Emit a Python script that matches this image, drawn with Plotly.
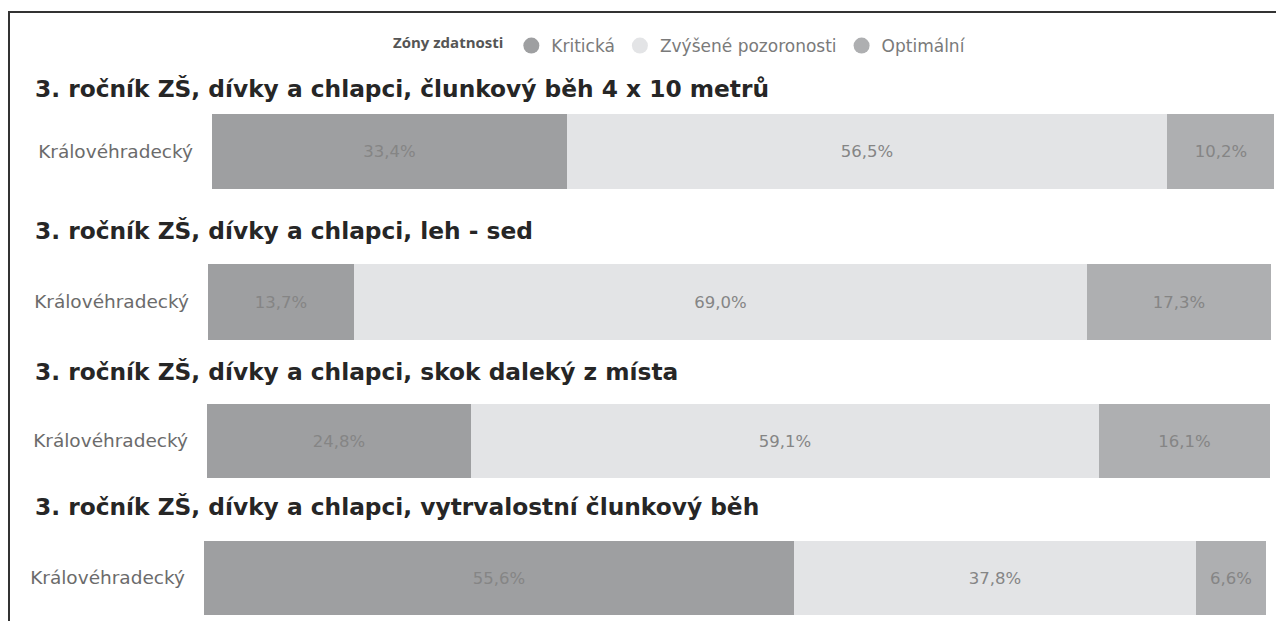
import plotly.graph_objects as go
from plotly.subplots import make_subplots

titles = [
    "3. ročník ZŠ, dívky a chlapci, člunkový běh 4 x 10 metrů",
    "3. ročník ZŠ, dívky a chlapci, leh - sed",
    "3. ročník ZŠ, dívky a chlapci, skok daleký z místa",
    "3. ročník ZŠ, dívky a chlapci, vytrvalostní člunkový běh",
]
region = ["Královéhradecký"]
zones = ["Kritická", "Zvýšené pozoronosti", "Optimální"]
kriticka = [33.4, 13.7, 24.8, 55.6]
zvysene = [56.5, 69.0, 59.1, 37.8]
optimalni = [10.2, 17.3, 16.1, 6.6]
colors = ["#9e9fa1", "#e3e4e6", "#aeafb1"]

# page body has an 8px margin, so the figure is 8px smaller than the window
W, H = 1276, 613
OFF = 8
# pixel geometry (window coords) of each panel bar (left, right, top, bottom)
panels_px = [(212, 1274, 114, 189), (208, 1271, 264, 340), (207, 1270, 404, 478), (204, 1266, 541, 615)]
title_y_px = [88, 230, 371, 506]

fig = make_subplots(rows=4, cols=1)
series = [kriticka, zvysene, optimalni]
FONT = "DejaVu Sans"

def fmt(v):
    return f"{v:.1f}%".replace(".", ",")

for i in range(4):
    for z, name in enumerate(zones):
        v = series[z][i]
        fig.add_trace(go.Bar(
            x=[v], y=region, orientation="h", name=name,
            marker=dict(color=colors[z], line=dict(width=0)),
            text=[fmt(v)], textposition="inside", insidetextanchor="middle",
            textfont=dict(color="#858585", size=16.5, family=FONT),
            showlegend=False, hoverinfo="skip",
        ), row=i + 1, col=1)

# legend entries with circle markers
for z, name in enumerate(zones):
    fig.add_trace(go.Scatter(x=[None], y=[None], mode="markers", name=name,
                             marker=dict(symbol="circle", size=17, color=colors[z]),
                             showlegend=True), row=1, col=1)

layout_axes = {}
for i in range(4):
    l, r, t, b = [v - OFF for v in panels_px[i]]
    sfx = "" if i == 0 else str(i + 1)
    layout_axes["xaxis" + sfx] = dict(domain=[l / W, min(r / W, 1)], range=[0, 100], visible=False, fixedrange=True)
    layout_axes["yaxis" + sfx] = dict(domain=[1 - b / H, 1 - t / H], range=[-0.5, 0.5],
                                      showgrid=False, zeroline=False, showline=False,
                                      ticks="", ticklabelstandoff=18,
                                      tickfont=dict(size=18.5, color="#6b6b6b", family=FONT))
fig.update_layout(**layout_axes)

for i, t in enumerate(titles):
    fig.add_annotation(text=f"<b>{t}</b>", xref="paper", yref="paper",
                       x=25 / W, y=1 - (title_y_px[i] - OFF) / H, xanchor="left", yanchor="middle",
                       showarrow=False, font=dict(size=23.3, color="#262626", family=FONT))

# frame lines
fig.add_shape(type="line", xref="paper", yref="paper", x0=0, x1=1, y0=1 - 4 / H, y1=1 - 4 / H,
              line=dict(color="#333333", width=2))
fig.add_shape(type="line", xref="paper", yref="paper", x0=1 / W, x1=1 / W, y0=0, y1=1 - 4 / H,
              line=dict(color="#333333", width=2))

fig.update_layout(
    width=W, height=H, barmode="stack", bargap=0,
    margin=dict(l=0, r=0, t=0, b=0),
    paper_bgcolor="white", plot_bgcolor="white",
    font=dict(family=FONT, color="#666666"),
    legend=dict(orientation="h", traceorder="normal", x=(681 - OFF) / W, xanchor="center",
                y=1 - (46 - OFF) / H, yanchor="middle",
                title=dict(text="<b>Zóny zdatnosti</b>", font=dict(size=15, color="#555555", family="Open Sans")),
                font=dict(size=17, color="#7a7a7a", family=FONT), itemwidth=30, tracegroupgap=0),
)

fig.write_html("out.html")
